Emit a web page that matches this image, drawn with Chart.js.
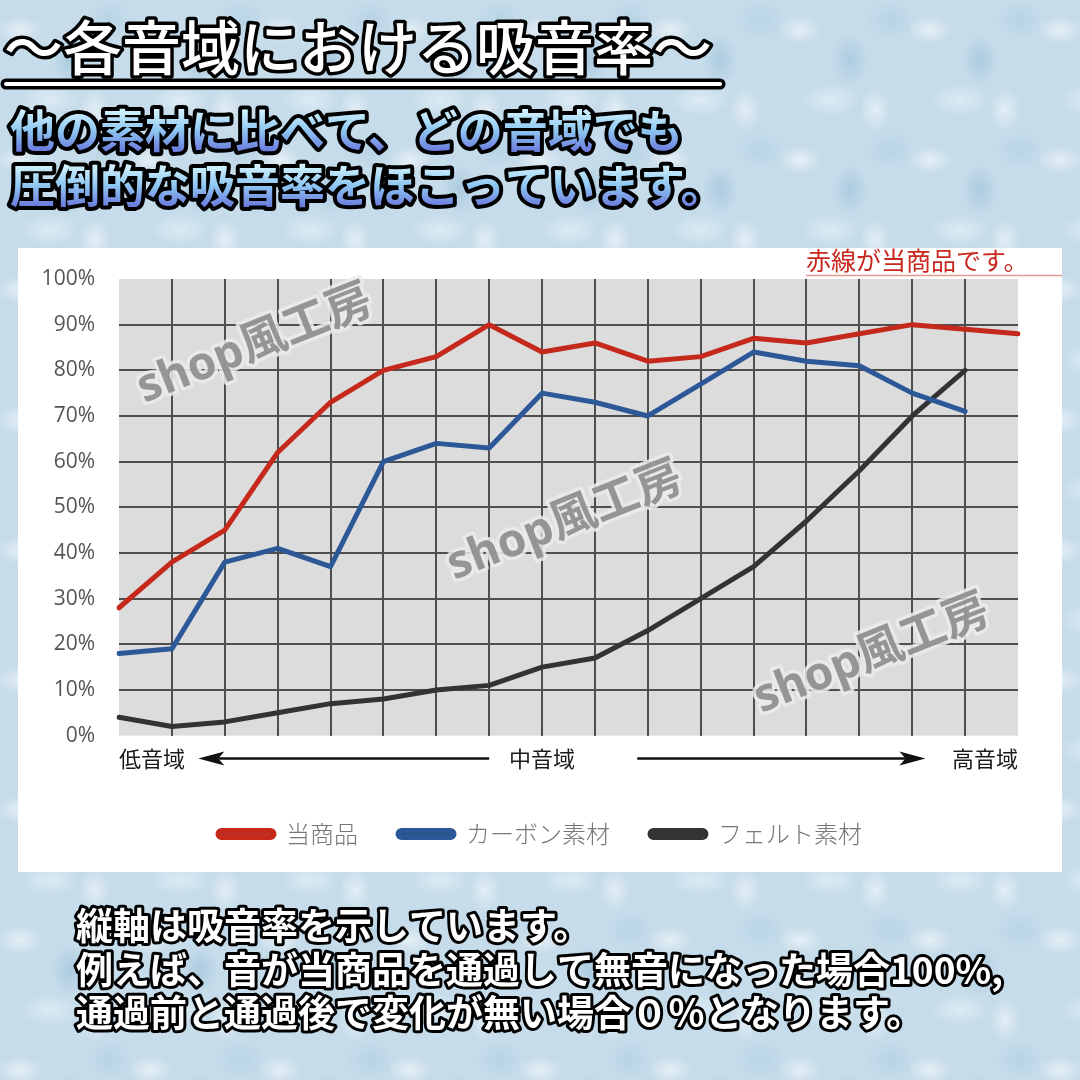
<!DOCTYPE html>
<html lang="ja">
<head>
<meta charset="utf-8">
<title>各音域における吸音率</title>
<script src="https://cdn.jsdelivr.net/npm/chart.js@4.4.0/dist/chart.umd.min.js"></script>
<style>
  html, body { margin: 0; padding: 0; }
  body {
    width: 1080px; height: 1080px; overflow: hidden;
    background-color: #c6dcea;
    background-image:
      radial-gradient(ellipse 22px 14px at 20px 30px, rgba(255,255,255,.55), transparent),
      radial-gradient(ellipse 18px 26px at 70px 60px, rgba(150,190,215,.55), transparent),
      radial-gradient(ellipse 30px 16px at 50px 100px, rgba(235,245,250,.6), transparent),
      radial-gradient(ellipse 26px 20px at 110px 20px, rgba(170,205,225,.5), transparent),
      radial-gradient(ellipse 16px 22px at 95px 110px, rgba(255,255,255,.5), transparent);
    background-size: 130px 130px, 130px 130px, 130px 130px, 130px 130px, 130px 130px;
  }
  #wrap { position: relative; width: 1080px; height: 1080px; }
  canvas { position: absolute; left: 0; top: 0; }
</style>
</head>
<body>
<div id="wrap"><canvas id="absorbChart" width="1080" height="1080"></canvas></div>
<script>
// 音域（横軸の目盛り）
var categories = ['低音域', '', '', '', '', '', '', '', '中音域', '', '', '', '', '', '', '', '', '高音域'];
var seriesNames = ['当商品', 'カーボン素材', 'フェルト素材'];
// 吸音率 (%)
var ourProduct = [28, 38, 45, 62, 73, 80, 83, 90, 84, 86, 82, 83, 87, 86, 88, 90, 89, 88];
var carbon     = [18, 19, 38, 41, 37, 60, 64, 63, 75, 73, 70, 77, 84, 82, 81, 75, 71, null];
var felt       = [4, 2, 3, 5, 7, 8, 10, 11, 15, 17, 23, 30, 37, 47, 58, 70, 80, null];

var titleText = '〜各音域における吸音率〜';
var leadLines = ['他の素材に比べて、どの音域でも', '圧倒的な吸音率をほこっています。'];
var noteText = '赤線が当商品です。';
var footLines = ['縦軸は吸音率を示しています。', '例えば、音が当商品を通過して無音になった場合100%,', '通過前と通過後で変化が無い場合０％となります。'];
var watermark = 'shop風工房';

var JP = '"Noto Sans CJK JP", "Noto Sans", sans-serif';

function outlined(ctx, text, x, y, fill, w) {
  ctx.lineJoin = 'round';
  ctx.lineWidth = w;
  ctx.strokeStyle = '#000';
  ctx.strokeText(text, x, y);
  ctx.fillStyle = fill;
  ctx.fillText(text, x, y);
}

function arrow(ctx, x1, x2, y) {
  var dir = x2 > x1 ? 1 : -1;
  ctx.beginPath();
  ctx.moveTo(x1, y);
  ctx.lineTo(x2 - dir * 20, y);
  ctx.lineWidth = 2.5;
  ctx.strokeStyle = '#111';
  ctx.stroke();
  ctx.beginPath();
  ctx.moveTo(x2, y);
  ctx.lineTo(x2 - dir * 26, y - 7);
  ctx.lineTo(x2 - dir * 20, y);
  ctx.lineTo(x2 - dir * 26, y + 7);
  ctx.closePath();
  ctx.fillStyle = '#111';
  ctx.fill();
}

var decor = {
  id: 'decor',
  beforeDraw: function(chart) {
    var ctx = chart.ctx, a = chart.chartArea;
    ctx.save();
    ctx.fillStyle = '#ffffff';
    ctx.fillRect(18, 248, 1044, 624);
    ctx.fillStyle = '#dcdcdc';
    ctx.fillRect(a.left, a.top, a.right - a.left, a.bottom - a.top);

    ctx.font = '25px ' + JP;
    ctx.fillStyle = '#c8281e';
    ctx.textAlign = 'left';
    ctx.textBaseline = 'alphabetic';
    ctx.fillText(noteText, 806, 270);
    ctx.strokeStyle = '#e59a8e';
    ctx.lineWidth = 1.5;
    ctx.beginPath();
    ctx.moveTo(806, 275.5);
    ctx.lineTo(1062, 275.5);
    ctx.stroke();
    ctx.restore();
  },
  afterDraw: function(chart) {
    var ctx = chart.ctx, x = chart.scales.x, a = chart.chartArea;
    ctx.save();

    // 低音域 ← 中音域 → 高音域
    var ay = a.bottom + 23;
    arrow(ctx, x.getPixelForValue(7), x.getPixelForValue(1.5), ay);
    arrow(ctx, x.getPixelForValue(9.8), x.getPixelForValue(15.25), ay);

    // watermarks
    ctx.font = 'bold 46px "Open Sans", ' + JP;
    ctx.textAlign = 'center';
    ctx.textBaseline = 'middle';
    [[255, 345], [565, 522], [872, 655]].forEach(function(p) {
      ctx.save();
      ctx.translate(p[0], p[1]);
      ctx.rotate(-21.6 * Math.PI / 180);
      ctx.lineJoin = 'round';
      ctx.lineWidth = 7;
      ctx.strokeStyle = 'rgba(235,235,235,0.85)';
      ctx.strokeText(watermark, 0, 0);
      ctx.fillStyle = 'rgba(140,140,140,0.9)';
      ctx.fillText(watermark, 0, 0);
      ctx.restore();
    });

    // heading
    ctx.textAlign = 'left';
    ctx.textBaseline = 'alphabetic';
    ctx.font = '500 59px ' + JP;
    outlined(ctx, titleText, 4, 70, '#ffffff', 7);
    ctx.lineCap = 'round';
    ctx.beginPath();
    ctx.moveTo(6, 84);
    ctx.lineTo(720, 84);
    ctx.lineWidth = 11;
    ctx.strokeStyle = '#000';
    ctx.stroke();
    ctx.lineWidth = 4;
    ctx.strokeStyle = '#ffffff';
    ctx.stroke();

    ctx.font = 'bold 45px ' + JP;
    leadLines.forEach(function(t, i) {
      var y = 148 + i * 55;
      var g = ctx.createLinearGradient(0, y - 40, 0, y + 4);
      g.addColorStop(0, '#d9f7ff');
      g.addColorStop(0.5, '#8fc8f2');
      g.addColorStop(1, '#6a78dc');
      outlined(ctx, t, 10, y, g, 8);
    });

    ctx.font = '600 37px ' + JP;
    footLines.forEach(function(t, i) {
      outlined(ctx, t, 76, 940 + i * 43.5, '#ffffff', 6);
    });
    ctx.restore();
  }
};

var ctx = document.getElementById('absorbChart').getContext('2d');
var absorbChart = new Chart(ctx, {
  type: 'line',
  data: {
    labels: categories,
    datasets: [
      { label: seriesNames[0], data: ourProduct, borderColor: '#c4291c', backgroundColor: '#b8322a' },
      { label: seriesNames[1], data: carbon, borderColor: '#2c5897', backgroundColor: '#2c5488' },
      { label: seriesNames[2], data: felt, borderColor: '#333333', backgroundColor: '#333333' }
    ]
  },
  options: {
    responsive: false,
    animation: false,
    layout: { padding: { top: 279, left: 0, right: 0, bottom: 224 } },
    elements: {
      line: { borderWidth: 5, tension: 0, fill: false, borderCapStyle: 'round', borderJoinStyle: 'round' },
      point: { radius: 0, hoverRadius: 0 }
    },
    scales: {
      x: {
        offset: false,
        grid: {
          drawTicks: false,
          lineWidth: 2,
          color: function(c) {
            return (c.index === 0 || c.index === categories.length - 1) ? 'rgba(0,0,0,0)' : '#4e4e4e';
          }
        },
        border: { display: false },
        ticks: {
          autoSkip: false, maxRotation: 0, align: 'inner', padding: 10,
          color: '#1a1a1a', font: { family: JP, size: 22 }
        }
      },
      y: {
        min: 0, max: 100,
        afterFit: function(scale) { scale.width = 119; },
        grid: {
          drawTicks: false,
          lineWidth: 2,
          color: function(c) {
            return (c.tick.value === 0 || c.tick.value === 100) ? 'rgba(0,0,0,0)' : '#4e4e4e';
          }
        },
        border: { display: false },
        ticks: {
          stepSize: 10, padding: 24, color: '#555555',
          font: { family: '"Open Sans", sans-serif', size: 21 },
          callback: function(v) { return v + '%'; }
        }
      },
      // empty right-hand box that keeps the plot clear of the panel edge
      spacer: {
        type: 'linear', position: 'right', display: true,
        afterFit: function(scale) { scale.width = 62; },
        grid: { display: false },
        border: { display: false },
        ticks: { display: false }
      }
    },
    plugins: {
      legend: {
        position: 'bottom',
        labels: {
          boxWidth: 56, boxHeight: 7, useBorderRadius: true, borderRadius: 3.5,
          padding: 40, color: '#777777',
          font: { family: JP, size: 24, weight: '300' }
        }
      },
      tooltip: { enabled: false }
    }
  },
  plugins: [decor]
});
</script>
</body>
</html>
